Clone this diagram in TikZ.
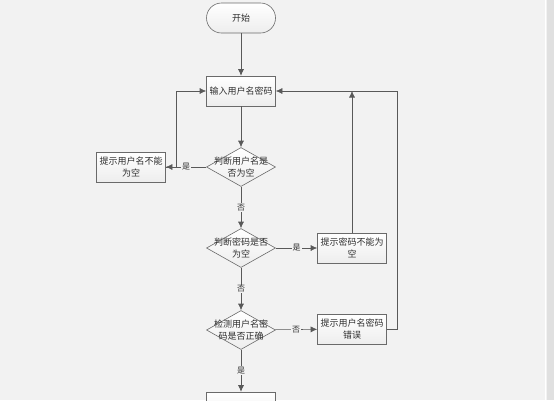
\documentclass[tikz,border=0pt]{standalone}
\usepackage{fontspec}
\newfontfamily\cjk{Noto Sans CJK SC}
\usetikzlibrary{shapes.geometric,arrows.meta}
\definecolor{bg}{HTML}{F2F2F2}
\definecolor{edge}{HTML}{6A6A6A}
\definecolor{ink}{HTML}{2E2E2E}
\tikzset{
  box/.style={draw=edge, line width=0.6pt, top color=white, bottom color=gray!14, minimum width=69pt, minimum height=30pt,
    inner sep=1pt, text width=66pt, align=center, font=\cjk\fontsize{9}{12}\selectfont, text=ink},
  term/.style={box, rounded corners=15pt},
  decision/.style={diamond, draw=edge, line width=0.6pt, top color=white, bottom color=gray!14, minimum width=69pt,
    minimum height=39pt, inner sep=0pt},
  inside/.style={align=center, font=\cjk\fontsize{9}{12}\selectfont, text=ink, inner sep=0pt},
  arr/.style={draw=black!65, line width=0.6pt, -{Latex[length=6.5pt,width=6pt]}},
  yes/.style={fill=bg, font=\cjk\fontsize{8}{8}\selectfont, inner sep=1pt, text=ink}
}
\begin{document}
\begin{tikzpicture}[x=1pt,y=-1pt]
\clip (0,0) rectangle (554,400);
\fill[bg] (0,0) rectangle (554,400);
\fill[black!12] (547,0) rectangle (554,400);
\draw[white] (545.5,0) -- (545.5,400);
\node[term] (start) at (241,18) {开始};
\node[box] (input) at (241,91) {输入用户名密码};
\node[decision, label={[inside]center:{判断用户名是\\否为空}}] (chkname) at (241,167) {};
\node[box] (noname) at (131,167) {提示用户名不能\\为空};
\node[decision, label={[inside]center:{判断密码是否\\为空}}] (chkpwd) at (241,248) {};
\node[box] (nopwd) at (352,248) {提示密码不能为\\空};
\node[decision, label={[inside]center:{检测用户名密\\码是否正确}}] (verify) at (241,330) {};
\node[box] (wrong) at (352,329) {提示用户名密码\\错误};
\node[box] (ok) at (241,407) {};
\draw[arr] (start) -- (input);
\draw[arr] (input) -- (chkname);
\draw[arr] (chkname) -- node[yes]{是} (noname);
\draw[arr] (noname.east) -- ++(10,0) |- (input.west);
\draw[arr] (chkname) -- node[yes]{否} (chkpwd);
\draw[arr] (chkpwd) -- node[yes]{是} (nopwd);
\draw[arr] (nopwd) -- (nopwd |- input);
\draw[arr] (wrong.east) -- ++(10,0) |- (input.east);
\draw[arr] (chkpwd) -- node[yes]{否} (verify);
\draw[arr] (verify) -- node[yes]{否} (wrong);
\draw[arr] (verify) -- node[yes]{是} (ok);
\end{tikzpicture}
\end{document}
